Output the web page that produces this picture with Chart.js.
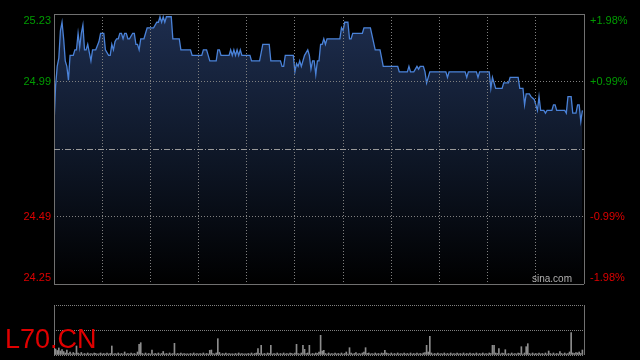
<!DOCTYPE html>
<html>
<head>
<meta charset="utf-8">
<script src="https://cdn.jsdelivr.net/npm/chart.js@4"></script>
<style>
  body { margin: 0; background: #000; width: 640px; height: 360px; overflow: hidden; position: relative; font-family: "Liberation Sans", Arial, sans-serif; }
  #priceChart { position: absolute; left: 0; top: 0; }
  #volChart { position: absolute; left: 0; top: 300px; }
  #brand { position: absolute; left: 532px; top: 274px; font-size: 10px; line-height: 10px; color: #b0b0b0; }
  #symbol { position: absolute; left: 5px; top: 326px; font-size: 27px; line-height: 27px; color: #e00000; }
</style>
</head>
<body>
<canvas id="priceChart" width="640" height="300"></canvas>
<canvas id="volChart" width="640" height="60"></canvas>
<div id="brand">sina.com</div>
<div id="symbol">L70.CN</div>
<script>
// price scale (grid lines sit at +-0.99% steps around the previous close)
const yMin = 24.25;
const yMax = 25.23;
const prevClose = 24.74;
const yGridValues = [24.25, 24.495, 24.74, 24.985, 25.23];
const leftLabels = ['24.25', '24.49', '24.99', '25.23'];
const labelValues = [24.25, 24.495, 24.985, 25.23];
const rightLabels = ['-1.98%', '-0.99%', '+0.99%', '+1.98%'];
const sessionMinutes = 330;

// intraday price, minute -> price (turning points)
const priceMinutes = [
  0, 1, 2, 3, 4, 5, 6, 7, 8, 9, 10, 12, 13, 14, 15, 16, 17, 18, 19, 20,
  21, 22, 23, 24, 26, 28, 29, 31, 32, 34, 35, 36, 37, 38, 39, 40, 41, 42, 43, 44,
  45, 46, 47, 49, 50, 51, 52, 53, 54, 56, 57, 58, 62, 64, 65, 66, 67, 68, 69, 70,
  73, 74, 78, 79, 85, 86, 92, 93, 95, 97, 101, 102, 103, 104, 109, 110, 111, 112, 113, 114,
  115, 116, 117, 122, 123, 128, 130, 134, 135, 141, 142, 143, 144, 149, 150, 151, 152, 153, 154, 156,
  158, 159, 160, 161, 162, 163, 164, 165, 166, 167, 168, 169, 170, 178, 179, 180, 181, 183, 184, 185,
  186, 192, 193, 197, 200, 203, 205, 214, 215, 220, 221, 222, 224, 226, 227, 228, 230, 231, 232, 234,
  244, 245, 246, 256, 257, 258, 263, 264, 265, 271, 272, 273, 274, 275, 279, 280, 283, 284, 289, 290,
  292, 293, 294, 296, 297, 299, 300, 301, 302, 303, 305, 306, 307, 310, 311, 312, 313, 318, 319, 320,
  322, 323, 325, 326, 327, 328, 329
];
const priceValues = [
  24.83, 24.97, 25.04, 25.07, 25.17, 25.20, 25.14, 25.06, 25.04, 24.99, 25.08, 25.08, 25.10, 25.10, 25.16, 25.11, 25.16, 25.19, 25.10, 25.10,
  25.12, 25.09, 25.06, 25.10, 25.10, 25.13, 25.16, 25.16, 25.10, 25.08, 25.08, 25.12, 25.10, 25.13, 25.14, 25.14, 25.16, 25.16, 25.14, 25.16,
  25.16, 25.14, 25.14, 25.16, 25.16, 25.12, 25.12, 25.10, 25.14, 25.14, 25.16, 25.18, 25.18, 25.20, 25.20, 25.22, 25.20, 25.22, 25.20, 25.22,
  25.22, 25.14, 25.14, 25.10, 25.10, 25.08, 25.08, 25.10, 25.10, 25.06, 25.06, 25.10, 25.10, 25.08, 25.08, 25.10, 25.08, 25.10, 25.08, 25.10,
  25.08, 25.10, 25.08, 25.08, 25.06, 25.06, 25.12, 25.12, 25.06, 25.06, 25.04, 25.04, 25.08, 25.08, 25.02, 25.05, 25.04, 25.06, 25.04, 25.08,
  25.10, 25.08, 25.03, 25.06, 25.06, 25.01, 25.06, 25.06, 25.12, 25.12, 25.14, 25.12, 25.14, 25.14, 25.18, 25.17, 25.20, 25.20, 25.14, 25.14,
  25.16, 25.16, 25.18, 25.18, 25.10, 25.10, 25.04, 25.04, 25.02, 25.02, 25.04, 25.02, 25.02, 25.04, 25.03, 25.04, 25.04, 25.02, 24.98, 25.02,
  25.02, 25.00, 25.02, 25.02, 25.00, 25.02, 25.02, 25.00, 25.02, 25.02, 24.96, 25.00, 24.98, 24.96, 24.96, 24.98, 24.98, 25.00, 25.00, 24.96,
  24.96, 24.90, 24.94, 24.94, 24.93, 24.92, 24.90, 24.88, 24.93, 24.88, 24.88, 24.87, 24.88, 24.88, 24.90, 24.90, 24.88, 24.88, 24.87, 24.93,
  24.93, 24.87, 24.87, 24.90, 24.90, 24.84, 24.88
];

// volume per minute (hundreds of lots)
const volumeValues = [
  147, 60, 45, 70, 40, 55, 35, 20, 50, 15, 30, 10, 25, 15, 90, 20, 10, 25, 10, 15, 10, 20, 10, 15, 10, 20, 15, 10, 12, 20,
  10, 15, 10, 20, 10, 15, 90, 10, 15, 10, 20, 10, 15, 10, 30, 10, 15, 10, 20, 10, 15, 10, 30, 107, 123, 15, 10, 20, 10, 15,
  10, 50, 10, 15, 10, 20, 10, 15, 35, 10, 15, 10, 20, 10, 15, 117, 10, 15, 10, 20, 10, 15, 10, 12, 10, 15, 10, 20, 10, 15,
  10, 15, 10, 20, 10, 15, 10, 47, 50, 15, 10, 20, 163, 25, 10, 15, 10, 20, 10, 15, 10, 12, 10, 15, 10, 20, 10, 15, 10, 12,
  10, 15, 10, 20, 10, 15, 20, 63, 15, 97, 10, 15, 10, 20, 15, 97, 10, 15, 10, 20, 10, 15, 10, 20, 10, 15, 10, 20, 15, 10,
  20, 107, 15, 10, 20, 97, 57, 15, 20, 97, 10, 15, 10, 20, 15, 30, 197, 40, 47, 15, 10, 20, 10, 15, 10, 20, 10, 15, 10, 20,
  10, 15, 30, 10, 73, 20, 10, 15, 25, 10, 15, 10, 20, 30, 73, 15, 20, 10, 15, 10, 20, 10, 15, 10, 20, 15, 47, 20, 15, 10,
  20, 10, 15, 10, 20, 10, 15, 10, 20, 10, 15, 10, 20, 10, 15, 10, 20, 10, 15, 10, 20, 25, 97, 30, 187, 20, 10, 15, 10, 20,
  10, 15, 10, 20, 10, 15, 10, 20, 10, 15, 10, 20, 10, 15, 10, 20, 10, 15, 10, 20, 10, 15, 10, 20, 10, 15, 10, 20, 10, 15,
  10, 20, 15, 97, 97, 20, 15, 63, 10, 20, 15, 53, 10, 15, 10, 20, 10, 15, 10, 20, 15, 83, 10, 20, 83, 113, 15, 10, 20, 10,
  15, 10, 20, 10, 15, 10, 20, 10, 40, 15, 10, 20, 10, 15, 10, 33, 15, 10, 20, 10, 15, 30, 223, 20, 15, 25, 20, 30, 15, 50
];
const volumeMax = 500;
const volumeGrid = [0, 250, 500];

const upColor = '#009c00';
const downColor = '#dd0000';
const frameColor = '#707070';
const gridColor = '#808080';
const fontFamily = 'Liberation Sans, Arial, sans-serif';

// keeps the edge labels inside the frame, like the original
const edgeShift = (yMax - yMin) * 6.5 / 270;
function labelTicks() {
  return labelValues.map((v, i) => {
    if (i === 0) return { value: v + edgeShift };
    if (i === labelValues.length - 1) return { value: v - edgeShift };
    return { value: v };
  });
}

const pricePoints = priceMinutes.map((m, i) => ({ x: m, y: priceValues[i] }));
const volumePoints = volumeValues.map((v, i) => ({ x: i, y: v }));

const minuteTicks = [];
for (let m = 0; m <= sessionMinutes; m += 30) minuteTicks.push(m);

new Chart(document.getElementById('priceChart'), {
  type: 'line',
  data: {
    datasets: [{
      data: pricePoints,
      borderColor: '#4a82d8',
      borderWidth: 1.3,
      pointRadius: 0,
      tension: 0,
      fill: 'start',
      backgroundColor: (ctx) => {
        const area = ctx.chart.chartArea;
        if (!area) return 'rgba(0,0,0,0)';
        const g = ctx.chart.ctx.createLinearGradient(0, area.top, 0, area.bottom);
        g.addColorStop(0, '#1d2d4e');
        g.addColorStop(0.5, '#0f1829');
        g.addColorStop(1, '#000000');
        return g;
      },
      yAxisID: 'y'
    }]
  },
  options: {
    responsive: false,
    animation: false,
    devicePixelRatio: 1,
    layout: { padding: { top: 14, bottom: 16, left: 0, right: 0 } },
    plugins: { legend: { display: false }, tooltip: { enabled: false } },
    scales: {
      x: {
        type: 'linear',
        min: 0,
        max: sessionMinutes,
        afterBuildTicks: (s) => { s.ticks = minuteTicks.map(v => ({ value: v })); },
        afterFit: (s) => { s.height = 0; },
        ticks: { display: false },
        border: {
          display: false,
          dash: (ctx) => (ctx.index === 0 || ctx.index === minuteTicks.length - 1) ? [] : [1, 2]
        },
        grid: {
          z: 1,
          drawTicks: false,
          lineWidth: 1,
          color: (ctx) => (ctx.index === 0 || ctx.index === minuteTicks.length - 1) ? frameColor : gridColor
        }
      },
      y: {
        position: 'left',
        min: yMin,
        max: yMax,
        afterBuildTicks: (s) => { s.ticks = yGridValues.map(v => ({ value: v })); },
        afterFit: (s) => { s.width = 0; },
        ticks: { display: false },
        border: {
          display: false,
          dash: (ctx) => {
            const v = yGridValues[ctx.index];
            if (v === yMin || v === yMax) return [];
            if (v === prevClose) return [6, 2, 1, 2];
            return [1, 2];
          }
        },
        grid: {
          z: 1,
          drawTicks: false,
          color: (ctx) => {
            const v = yGridValues[ctx.index];
            if (v === yMin || v === yMax) return frameColor;
            if (v === prevClose) return '#9a9a9a';
            return gridColor;
          }
        }
      },
      yl: {
        position: 'left',
        min: yMin,
        max: yMax,
        afterBuildTicks: (s) => { s.ticks = labelTicks(); },
        afterFit: (s) => { s.width = 54; },
        grid: { display: false, drawTicks: false },
        border: { display: false },
        ticks: {
          padding: 3,
          font: { family: fontFamily, size: 11 },
          color: (ctx) => ctx.index >= 2 ? upColor : downColor,
          callback: (v, i) => leftLabels[i]
        }
      },
      yr: {
        position: 'right',
        min: yMin,
        max: yMax,
        afterBuildTicks: (s) => { s.ticks = labelTicks(); },
        afterFit: (s) => { s.width = 56; },
        grid: { display: false, drawTicks: false },
        border: { display: false },
        ticks: {
          padding: 6,
          font: { family: fontFamily, size: 11 },
          color: (ctx) => ctx.index >= 2 ? upColor : downColor,
          callback: (v, i) => rightLabels[i]
        }
      }
    }
  }
});

new Chart(document.getElementById('volChart'), {
  type: 'bar',
  data: {
    datasets: [{
      data: volumePoints,
      backgroundColor: '#8c8c8c',
      barThickness: 1,
      borderWidth: 0
    }]
  },
  options: {
    responsive: false,
    animation: false,
    devicePixelRatio: 1,
    layout: { padding: { top: 5, bottom: 5, left: 0, right: 56 } },
    plugins: { legend: { display: false }, tooltip: { enabled: false } },
    scales: {
      x: {
        type: 'linear',
        min: 0,
        max: sessionMinutes,
        offset: false,
        afterBuildTicks: (s) => { s.ticks = [{ value: 0 }, { value: sessionMinutes }]; },
        afterFit: (s) => { s.height = 0; },
        ticks: { display: false },
        border: { display: false },
        grid: { offset: false, drawTicks: false, color: frameColor }
      },
      y: {
        min: 0,
        max: volumeMax,
        afterBuildTicks: (s) => { s.ticks = volumeGrid.map(v => ({ value: v })); },
        afterFit: (s) => { s.width = 54; },
        ticks: { display: false },
        border: { display: false, dash: [1, 1] },
        grid: { drawTicks: false, color: gridColor }
      }
    }
  }
});
</script>
</body>
</html>
